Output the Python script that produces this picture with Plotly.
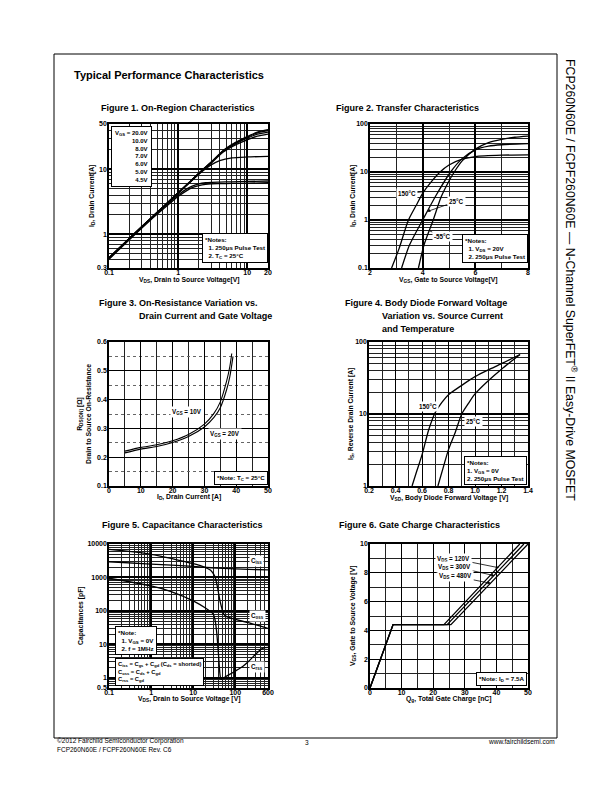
import math
import plotly.graph_objects as go

W, H = 612, 792
FONT = "Liberation Sans, Arial, sans-serif"

# Figure 1: On-Region Characteristics (VDS [V] -> ID [A]) per VGS
f1_vds = [0.1, 0.2, 0.4, 0.6, 1.0, 1.5, 2.2, 3.0, 4.5, 7.0, 10.0, 14.0, 20.0]
f1_id_20v = [0.43, 0.87, 1.75, 2.6, 4.35, 6.5, 9.6, 12.8, 19.5, 26.5, 32.0, 37.5, 41.0]
f1_id_10v = [0.43, 0.87, 1.75, 2.6, 4.35, 6.5, 9.6, 12.8, 19.3, 26.0, 31.3, 36.5, 39.5]
f1_id_8v = [0.43, 0.87, 1.75, 2.6, 4.35, 6.5, 9.5, 12.6, 19.0, 25.3, 30.2, 34.8, 37.5]
f1_id_7v = [0.43, 0.87, 1.74, 2.6, 4.3, 6.4, 9.4, 12.4, 18.5, 24.3, 28.5, 32.5, 35.0]
f1_vds_low = [0.1, 0.2, 0.4, 0.6, 1.0, 1.3, 1.6, 2.0, 2.5, 3.0, 4.0, 6.0, 10.0, 20.0]
f1_id_6v = [0.43, 0.86, 1.72, 2.55, 4.25, 5.5, 6.8, 8.4, 10.2, 11.7, 13.6, 15.0, 15.5, 15.8]
f1_id_5v = [0.42, 0.85, 1.7, 2.5, 4.0, 4.9, 5.5, 5.95, 6.2, 6.3, 6.35, 6.4, 6.5, 6.6]
f1_id_45v = [0.41, 0.83, 1.65, 2.4, 3.8, 4.6, 5.2, 5.6, 5.85, 5.95, 6.0, 6.05, 6.1, 6.2]
f1_labels = ["20.0V", "10.0V", "8.0V", "7.0V", "6.0V", "5.0V", "4.5V"]

# Figure 2: Transfer Characteristics (VGS [V] -> ID [A])
f2_vgs_150 = [2.82, 3.1, 3.46, 3.75, 4.0, 4.3, 4.66, 5.0, 5.5, 6.0, 7.0, 8.0]
f2_id_150 = [0.1, 0.25, 1.0, 2.0, 3.6, 6.0, 10.0, 14.0, 18.5, 21.0, 22.4, 22.8]
f2_vgs_25 = [3.2, 3.5, 4.0, 4.5, 5.06, 5.5, 6.0, 6.5, 7.0, 8.0]
f2_id_25 = [0.1, 0.3, 1.0, 3.2, 10.0, 19.0, 29.0, 34.5, 37.0, 39.0]
f2_vgs_m55 = [3.84, 4.05, 4.4, 4.7, 5.0, 5.2, 5.5, 6.0, 6.5, 7.0, 7.5, 8.0]
f2_id_m55 = [0.1, 0.3, 1.0, 3.0, 6.5, 10.0, 17.0, 30.0, 41.0, 48.0, 53.0, 56.0]

# Figure 3: On-resistance vs drain current
f3_id_10v = [5, 10, 15, 20, 25, 30, 33, 35, 37, 38, 38.6]
f3_rds_10v = [0.221, 0.234, 0.243, 0.257, 0.279, 0.315, 0.352, 0.392, 0.465, 0.515, 0.56]
f3_id_20v = [5, 10, 15, 20, 25, 30, 33, 35, 37, 38, 39]
f3_rds_20v = [0.215, 0.228, 0.237, 0.251, 0.272, 0.305, 0.338, 0.372, 0.435, 0.48, 0.55]

# Figure 4: Body diode forward voltage (VSD [V] -> IS [A])
f4_vsd_150 = [0.525, 0.56, 0.6, 0.65, 0.7, 0.75, 0.8, 0.9, 1.0, 1.1, 1.2, 1.34]
f4_is_150 = [1.0, 1.6, 2.7, 6.0, 10.5, 14.5, 18.5, 25.0, 33.0, 41.0, 50.0, 67.0]
f4_vsd_25 = [0.72, 0.76, 0.8, 0.85, 0.9, 0.95, 1.0, 1.1, 1.2, 1.34]
f4_is_25 = [1.0, 1.8, 3.2, 5.5, 10.0, 14.0, 19.0, 29.0, 42.0, 67.0]

# Figure 5: Capacitance (VDS [V] -> C [pF])
f5_vds_ciss = [0.1, 1, 10, 27, 100, 600]
f5_ciss = [2950, 2500, 2150, 1950, 1800, 1680]
f5_vds_coss = [0.1, 0.3, 1, 3, 6.4, 10, 16, 26, 33, 38, 43, 48, 52, 60, 82, 100, 200, 400, 600]
f5_coss = [6900, 6000, 4900, 3700, 2970, 2600, 2200, 1650, 1050, 500, 210, 120, 85, 70, 60, 56, 45, 35, 30]
f5_vds_crss = [0.1, 1, 3, 10, 20, 30, 33, 36, 40, 43, 45, 47, 52, 60, 80, 100, 150, 200, 300, 400, 500, 600]
f5_crss = [950, 560, 380, 200, 120, 80, 55, 25, 5, 1.4, 0.95, 0.9, 0.97, 1.1, 1.35, 1.6, 2.2, 3.0, 5.0, 7.0, 8.0, 8.2]

# Figure 6: Gate charge (Qg [nC] -> VGS [V])
f6_qg_120 = [0, 7.3, 23.4, 47.4]
f6_qg_300 = [0, 7.3, 24.4, 48.7]
f6_qg_480 = [0, 7.3, 25.6, 50.0]
f6_vgs = [0, 4.4, 4.4, 10.0]

# plot areas in page pixels: (x0, x1), (y0, y1)
AREAS = {
    1: ((109, 268), (124, 268)),
    2: ((370, 528), (124, 268)),
    3: ((109, 268), (342, 486)),
    4: ((369, 528), (342, 486)),
    5: ((109, 268), (544, 688)),
    6: ((370, 528), (544, 688)),
}


def log_minors(lo, hi):
    vals = []
    for e in range(-2, 5):
        for d in range(2, 10):
            v = d * 10.0 ** e
            if lo < v < hi:
                vals.append(v)
    return vals


def steps(lo, hi, step):
    n = int(round((hi - lo) / step))
    return [round(lo + i * step, 4) for i in range(n + 1)]


def axis(n, letter, kind, rng, tickvals, minor_vals, gw=1.3, mgw=0.6, mcolor="#222", mdash="solid", ticktext=None):
    (x0, x1), (y0, y1) = AREAS[n]
    if letter == "x":
        dom = [x0 / W, x1 / W]
    else:
        dom = [1 - y1 / H, 1 - y0 / H]
    other = "y" if letter == "x" else "x"
    anchor = other if n == 1 else f"{other}{n}"
    if kind == "log":
        rng = [math.log10(rng[0]), math.log10(rng[1])]
    return dict(
        domain=dom, anchor=anchor, type=kind, range=rng,
        tickmode="array", tickvals=tickvals,
        ticktext=ticktext or [("%g" % v) for v in tickvals],
        showgrid=True, gridcolor="black", gridwidth=gw,
        showline=True, mirror=True, linecolor="black", linewidth=1.5,
        ticks="", zeroline=False, fixedrange=True, automargin=False,
        ticklabelstandoff=-3 if letter == "x" else -1,
        tickfont=dict(family=FONT, size=7, color="black", weight="bold"),
        minor=dict(tickmode="array", tickvals=minor_vals, showgrid=True,
                   gridcolor=mcolor, gridwidth=mgw, griddash=mdash),
    )


fig = go.Figure()


def curve(n, x, y, width=1.3, shape="spline", smoothing=0.7):
    fig.add_trace(go.Scatter(
        x=x, y=y, mode="lines",
        xaxis="x" if n == 1 else f"x{n}", yaxis="y" if n == 1 else f"y{n}",
        line=dict(color="black", width=width, shape=shape, smoothing=smoothing),
        hoverinfo="skip", showlegend=False,
    ))


for ids in [f1_id_20v, f1_id_10v, f1_id_8v, f1_id_7v]:
    curve(1, f1_vds, ids)
for ids in [f1_id_6v, f1_id_5v, f1_id_45v]:
    curve(1, f1_vds_low, ids)

curve(2, f2_vgs_150, f2_id_150)
curve(2, f2_vgs_25, f2_id_25)
curve(2, f2_vgs_m55, f2_id_m55)

curve(3, f3_id_10v, f3_rds_10v, width=1.1)
curve(3, f3_id_20v, f3_rds_20v, width=1.1)

curve(4, f4_vsd_150, f4_is_150)
curve(4, f4_vsd_25, f4_is_25)

curve(5, f5_vds_ciss, f5_ciss, smoothing=0.5)
curve(5, f5_vds_coss, f5_coss, smoothing=0.5)
curve(5, f5_vds_crss, f5_crss, smoothing=0.5)

curve(6, f6_qg_120, f6_vgs, shape="linear")
curve(6, f6_qg_300, f6_vgs, shape="linear")
curve(6, f6_qg_480, f6_vgs, shape="linear")

layout = dict(
    width=W, height=H, margin=dict(l=0, r=0, t=0, b=0, pad=0, autoexpand=False),
    paper_bgcolor="white", plot_bgcolor="white", showlegend=False,
    font=dict(family=FONT, color="black"),
)
layout["xaxis"] = axis(1, "x", "log", [0.1, 20], [0.1, 1, 10, 20], log_minors(0.1, 20), gw=1.6)
layout["yaxis"] = axis(1, "y", "log", [0.3, 50], [0.3, 1, 10, 50], log_minors(0.3, 50), gw=1.6)
layout["xaxis2"] = axis(2, "x", "linear", [2, 8], [2, 4, 6, 8], [3, 5, 7], gw=1.6)
layout["yaxis2"] = axis(2, "y", "log", [0.1, 100], [0.1, 1, 10, 100], log_minors(0.1, 100), gw=1.6)
layout["xaxis3"] = axis(3, "x", "linear", [0, 50], [0, 10, 20, 30, 40, 50], steps(5, 45, 10), gw=1.0, mgw=0.8)
layout["yaxis3"] = axis(3, "y", "linear", [0.1, 0.6], [0.1, 0.2, 0.3, 0.4, 0.5, 0.6], steps(0.15, 0.55, 0.1),
                        gw=1.0, mgw=0.7, mcolor="#666", mdash="dot")
layout["xaxis4"] = axis(4, "x", "linear", [0.2, 1.4], [0.2, 0.4, 0.6, 0.8, 1.0, 1.2, 1.4], steps(0.3, 1.3, 0.2),
                        gw=1.0, mgw=1.0, ticktext=["0.2", "0.4", "0.6", "0.8", "1.0", "1.2", "1.4"])
layout["yaxis4"] = axis(4, "y", "log", [1, 100], [1, 10, 100], log_minors(1, 100), gw=1.6)
layout["xaxis5"] = axis(5, "x", "log", [0.1, 600], [0.1, 1, 10, 100, 600], log_minors(0.1, 600), gw=1.6)
layout["yaxis5"] = axis(5, "y", "log", [0.5, 10000], [0.5, 1, 10, 100, 1000, 10000], log_minors(0.5, 10000), gw=1.6)
layout["xaxis6"] = axis(6, "x", "linear", [0, 50], [0, 10, 20, 30, 40, 50], steps(5, 45, 10), gw=1.0, mgw=1.0)
layout["yaxis6"] = axis(6, "y", "linear", [0, 10], [0, 2, 4, 6, 8, 10], steps(1, 9, 2), gw=1.0, mgw=1.0)

annotations = []


def text(x, y, s, size=6.5, xanchor="center", yanchor="middle", bold=True, angle=0, **kw):
    annotations.append(dict(
        xref="paper", yref="paper", x=x / W, y=1 - y / H,
        text=("<b>%s</b>" % s) if bold else s, showarrow=False,
        xanchor=xanchor, yanchor=yanchor, textangle=angle,
        font=dict(family=FONT, size=size, color="black"), **kw))


def note(x, y, s, size=6.2, align="left"):
    text(x, y, s, size=size, xanchor="right", yanchor="bottom", align=align,
         bgcolor="white", bordercolor="black", borderwidth=1, borderpad=2)


def arrow(n, x, y, s, dx, dy, head=2, log_x=False, log_y=False):
    annotations.append(dict(
        xref="x" if n == 1 else f"x{n}", yref="y" if n == 1 else f"y{n}",
        x=math.log10(x) if log_x else x, y=math.log10(y) if log_y else y,
        ax=dx, ay=dy, text="<b>%s</b>" % s, showarrow=True,
        arrowhead=head, arrowsize=0.8, arrowwidth=0.8, arrowcolor="black",
        bgcolor="white", font=dict(family=FONT, size=6.3, color="black")))


NB = "\u00a0"

# page header, side title, footer
text(72, 75, "Typical Performance Characteristics", size=11, xanchor="left")
text(571, 280, "FCP260N60E / FCPF260N60E — N-Channel SuperFET<sup>®</sup> II Easy-Drive MOSFET",
     size=12.3, angle=90, bold=False)
text(55, 741, "©2012 Fairchild Semiconductor Corporation", size=6.5, xanchor="left", bold=False)
text(55, 749, "FCP260N60E / FCPF260N60E Rev. C6", size=6.5, xanchor="left", bold=False)
text(307, 742, "3", size=6.5, bold=False)
text(557, 741, "www.fairchildsemi.com", size=6.5, xanchor="right", bold=False)

# figure titles
text(99, 108, "Figure 1. On-Region Characteristics", size=9, xanchor="left")
text(334, 108, "Figure 2. Transfer Characteristics", size=9, xanchor="left")
text(97, 303, "Figure 3. On-Resistance Variation vs.", size=9, xanchor="left")
text(137, 316, "Drain Current and Gate Voltage", size=9, xanchor="left")
text(343, 303, "Figure 4. Body Diode Forward Voltage", size=9, xanchor="left")
text(380, 316, "Variation vs. Source Current", size=9, xanchor="left")
text(380, 329, "and Temperature", size=9, xanchor="left")
text(100, 525, "Figure 5. Capacitance Characteristics", size=9, xanchor="left")
text(337, 525, "Figure 6. Gate Charge Characteristics", size=9, xanchor="left")

# axis titles
text(189, 280, "V<sub>DS</sub>, Drain to Source Voltage[V]", size=6.8)
text(92, 196, "I<sub>D</sub>, Drain Current[A]", size=6.8, angle=-90)
text(449, 280, "V<sub>GS</sub>, Gate to Source Voltage[V]", size=6.8)
text(353, 196, "I<sub>D</sub>, Drain Current[A]", size=6.8, angle=-90)
text(189, 497, "I<sub>D</sub>, Drain Current [A]", size=6.8)
text(84, 414, "R<sub>DS(ON)</sub> [Ω]<br>Drain to Source On-Resistance", size=6.8, angle=-90)
text(449, 498, "V<sub>SD</sub>, Body Diode Forward Voltage [V]", size=6.8)
text(351, 414, "I<sub>S</sub>, Reverse Drain Current [A]", size=6.8, angle=-90)
text(189, 699, "V<sub>DS</sub>, Drain to Source Voltage [V]", size=6.8)
text(81, 616, "Capacitances [pF]", size=6.8, angle=-90)
text(449, 699, "Q<sub>g</sub>, Total Gate Charge [nC]", size=6.8)
text(353, 616, "V<sub>GS</sub>, Gate to Source Voltage [V]", size=6.8, angle=-90)

# figure 1 legend box and notes
legend_lines = ["V<sub>GS</sub> = " + f1_labels[0]] + f1_labels[1:]
text(111, 126, "<br>".join(legend_lines), size=6, xanchor="left", yanchor="top", align="right",
     bgcolor="white", bordercolor="black", borderwidth=1, borderpad=3)
note(268, 263, "*Notes:<br>" + NB * 2 + "1. 250μs Pulse Test<br>" + NB * 2 + "2. T<sub>C</sub> = 25°C")

# figure 2 labels and notes
arrow(2, 4.05, 3.9, "150°C", -17, 2, head=0, log_y=True)
arrow(2, 4.17, 1.5, "25°C", 29, -10, log_y=True)
arrow(2, 4.25, 0.6, "-55°C", 13, 6, head=0, log_y=True)
note(528, 263, "*Notes:<br>" + NB * 2 + "1. V<sub>DS</sub> = 20V<br>" + NB * 2 + "2. 250μs Pulse Test")

# figure 3 labels
text(187, 412, "V<sub>GS</sub> = 10V", size=6.3, bgcolor="white")
text(225, 434, "V<sub>GS</sub> = 20V", size=6.3, bgcolor="white")
note(268, 485, "*Note: T<sub>C</sub> = 25°C")

# figure 4 labels
text(428, 407, "150°C", size=6.3, bgcolor="white")
text(473, 421, "25°C", size=6.3, bgcolor="white")
note(527, 485, "*Notes:<br>1. V<sub>GS</sub> = 0V<br>2. 250μs Pulse Test")

# figure 5 labels
text(256, 561, "C<sub>iss</sub>", size=6.3, bgcolor="white")
text(257, 616, "C<sub>oss</sub>", size=6.3, bgcolor="white")
text(257, 667, "C<sub>rss</sub>", size=6.3, bgcolor="white")
note(157, 655, "*Note:<br>" + NB * 2 + "1. V<sub>GS</sub> = 0V<br>" + NB * 2 + "2. f = 1MHz")
note(204, 686, "C<sub>iss</sub> = C<sub>gs</sub> + C<sub>gd</sub> (C<sub>ds</sub> = shorted)<br>"
     "C<sub>oss</sub> = C<sub>ds</sub> + C<sub>gd</sub><br>C<sub>rss</sub> = C<sub>gd</sub>", size=5.8)

# figure 6 labels
arrow(6, 40.8, 8.35, "V<sub>DS</sub> = 120V", -45, -9)
arrow(6, 39.4, 7.8, "V<sub>DS</sub> = 300V", -40, -9)
arrow(6, 38.2, 7.27, "V<sub>DS</sub> = 480V", -35, -7)
note(527, 686, "*Note: I<sub>D</sub> = 7.5A")

layout["annotations"] = annotations
layout["shapes"] = [dict(type="rect", xref="paper", yref="paper",
                         x0=54 / W, x1=557 / W, y0=1 - 738 / H, y1=1 - 54 / H,
                         line=dict(color="black", width=1), layer="below")]

fig.update_layout(**layout)
# the page body has a default 8px margin; remove it so the figure sits at the top-left corner
fig.write_html("out.html", config={"displayModeBar": False},
               post_script="document.body.style.margin='0';")
